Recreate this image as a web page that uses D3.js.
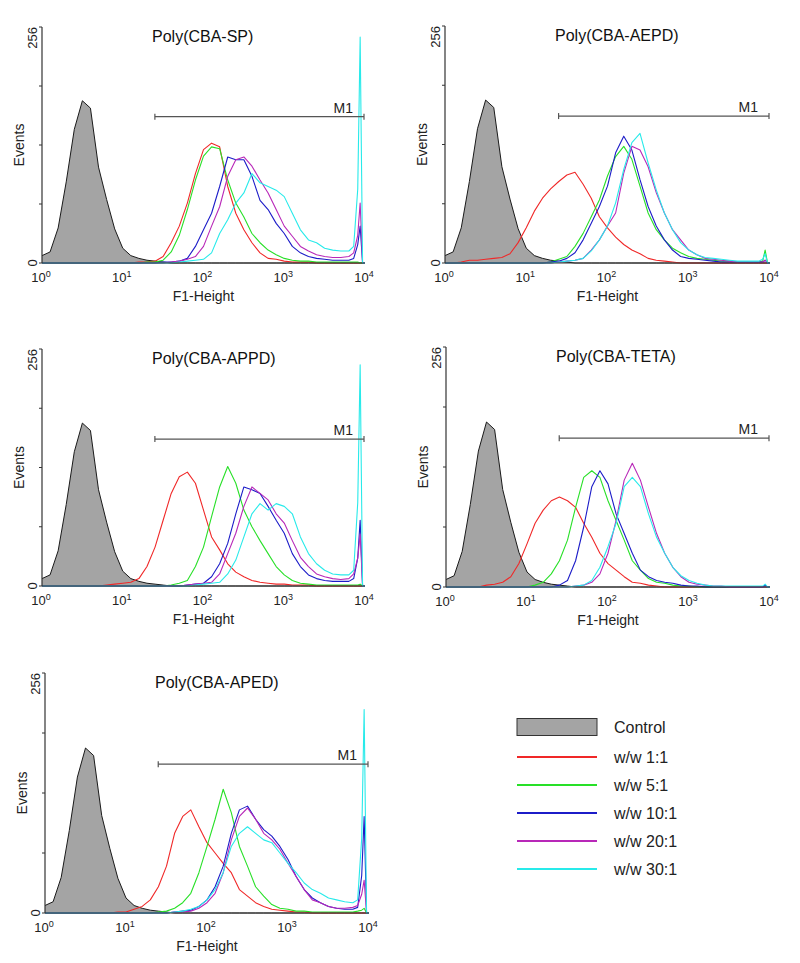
<!DOCTYPE html>
<html>
<head>
<meta charset="utf-8">
<script src="https://cdn.jsdelivr.net/npm/d3@7"></script>
<style>
  body { margin: 0; background: #fff; }
  svg { display: block; font-family: Arial, "Liberation Sans", sans-serif; }
</style>
</head>
<body>
<svg id="chart" width="800" height="963"></svg>
<script>
// ---------------- DATA ----------------
// fluorescence channel (log10 of F1-Height) at which counts were read
const fluorLog = [0.0,0.1,0.2,0.3,0.4,0.5,0.6,0.7,0.8,0.9,
                  1.0,1.1,1.2,1.3,1.4,1.5,1.6,1.7,1.8,1.9,
                  2.0,2.1,2.2,2.3,2.4,2.5,2.6,2.7,2.8,2.9,
                  3.0,3.1,3.2,3.3,3.4,3.5,3.6,3.7,3.8,
                  3.86,3.91,3.94,3.97,4.0];

const seriesNames = ["Control", "w/w 1:1", "w/w 5:1", "w/w 10:1", "w/w 20:1", "w/w 30:1"];
const panelTitles = ["Poly(CBA-SP)", "Poly(CBA-AEPD)", "Poly(CBA-APPD)", "Poly(CBA-TETA)", "Poly(CBA-APED)"];
const xTickLabels = ["0", "1", "2", "3", "4"];   // exponents of 10
const yTickValues = [0, 64, 128, 192, 256];
const markerLabel = "M1";
const markerRange = [25, 9000];

const control = [8,12,38,88,145,176,168,104,69,37, 16,8,5,3,2,1,0,0,0,0, 0,0,0,0,0,0,0,0,0,0, 0,0,0,0,0,0,0,0,0, 0,0,0,0,0];

// Poly(CBA-SP)
const sp_1 = [0,0,0,0,0,0,0,0,0,0, 0,0,1,1,2,7,22,40,65,97, 123,130,126,83,54,36,22,11,5,4, 2,1,1,1,0,0,0,0,0, 0,0,0,0,0];
const sp_5 = [0,0,0,0,0,0,0,0,0,0, 0,0,0,1,1,3,12,30,58,90, 116,126,124,90,65,50,32,22,14,9, 5,3,2,2,1,1,1,1,1, 1,1,0,0,0];
const sp_10 = [0,0,0,0,0,0,0,0,0,0, 0,0,0,0,0,1,1,2,5,18, 36,54,83,115,112,112,94,68,58,43, 32,18,11,7,5,4,3,3,3, 5,20,40,0,0];
const sp_20 = [0,0,0,0,0,0,0,0,0,0, 0,0,0,0,0,0,1,2,4,7, 18,40,61,94,112,115,105,90,76,58, 40,29,18,13,9,7,6,6,7, 11,30,65,0,0];
const sp_30 = [0,0,0,0,0,0,0,0,0,0, 0,0,0,0,0,0,0,1,2,3, 4,11,32,47,65,76,97,87,83,79, 72,54,36,25,22,16,14,13,13, 18,80,245,0,0];

// Poly(CBA-AEPD)
const aepd_1 = [0,0,1,3,3,4,5,6,10,22, 38,56,70,80,88,95,98,85,70,50, 38,28,20,14,10,5,3,2,1,0, 0,0,0,0,0,0,0,0,0, 0,0,0,0,0];
const aepd_5 = [0,0,0,0,0,0,0,0,0,0, 0,0,0,1,4,7,18,32,50,68, 94,115,126,112,83,54,36,25,16,11, 7,5,4,3,2,2,1,1,1, 1,2,14,0,0];
const aepd_10 = [0,0,0,0,0,0,0,0,0,0, 0,0,0,1,2,5,11,25,43,61, 83,119,137,122,90,61,40,25,14,7, 5,4,3,2,1,1,1,1,1, 1,1,3,0,0];
const aepd_20 = [0,0,0,0,0,0,0,0,0,0, 0,0,0,0,1,2,3,5,14,25, 40,54,97,126,122,104,76,54,36,25, 14,9,5,4,3,2,1,1,1, 1,1,3,0,0];
const aepd_30 = [0,0,0,0,0,0,0,0,0,0, 0,0,0,0,1,2,3,5,13,25, 40,65,101,130,140,108,79,54,36,22, 14,9,6,5,4,3,2,2,2, 2,4,10,0,0];

// Poly(CBA-APPD)
const appd_1 = [0,0,0,0,0,0,0,0,1,2, 3,4,8,21,42,71,100,118,123,111, 82,53,39,24,15,10,6,4,3,2, 2,1,1,1,0,0,0,0,0, 0,0,0,0,0];
const appd_5 = [0,0,0,0,0,0,0,0,0,0, 0,0,0,0,0,0,1,3,6,21, 42,75,107,129,111,82,64,49,35,21, 12,6,3,2,1,1,1,1,1, 1,1,2,0,0];
const appd_10 = [0,0,0,0,0,0,0,0,0,0, 0,0,0,0,0,0,0,0,1,2, 3,10,24,46,78,107,104,100,86,71, 57,35,21,12,8,6,5,5,5, 8,30,71,0,0];
const appd_20 = [0,0,0,0,0,0,0,0,0,0, 0,0,0,0,0,0,0,0,1,2, 3,4,13,35,57,86,107,100,93,78, 68,49,31,21,13,10,8,7,8, 13,30,56,0,0];
const appd_30 = [0,0,0,0,0,0,0,0,0,0, 0,0,0,0,0,0,0,0,0,1, 2,3,4,13,28,53,78,89,82,89, 86,78,53,35,24,17,13,12,12, 17,90,239,0,0];

// Poly(CBA-TETA)
const teta_1 = [0,0,0,0,0,2,3,5,11,25, 46,68,82,92,96,92,85,68,53,36, 25,18,11,5,4,2,1,0,0,0, 0,0,0,0,0,0,0,0,0, 0,0,0,0,0];
const teta_5 = [0,0,0,0,0,0,0,0,0,0, 0,2,5,14,28,50,85,117,124,117, 92,71,50,28,18,9,5,4,2,1, 1,0,0,0,0,0,0,0,0, 0,0,0,0,0];
const teta_10 = [0,0,0,0,0,0,0,0,0,0, 0,0,0,0,2,7,28,64,107,124, 110,78,57,36,18,11,7,5,4,2, 1,1,0,0,0,0,0,0,0, 0,0,2,0,0];
const teta_20 = [0,0,0,0,0,0,0,0,0,0, 0,0,0,0,0,0,1,2,5,14, 36,71,114,132,114,85,57,36,21,11, 5,3,2,1,1,0,0,0,0, 0,0,0,0,0];
const teta_30 = [0,0,0,0,0,0,0,0,0,0, 0,0,0,0,0,0,1,2,7,21, 43,68,107,117,107,78,53,36,21,12, 7,4,2,1,1,1,1,1,1, 1,1,3,0,0];

// Poly(CBA-APED)
const aped_1 = [0,0,0,0,0,0,0,0,0,1, 1,4,7,14,28,50,85,103,110,92, 75,64,53,43,25,18,11,7,4,3, 2,1,1,0,0,0,0,0,0, 0,0,0,0,0];
const aped_5 = [0,0,0,0,0,0,0,0,0,0, 0,0,0,0,1,2,5,11,21,43, 71,100,132,107,71,50,28,18,9,5, 4,2,2,1,1,1,1,1,1, 2,3,5,0,0];
const aped_10 = [0,0,0,0,0,0,0,0,0,0, 0,0,0,0,0,0,1,2,3,7, 14,28,50,85,110,114,100,89,82,71, 57,39,25,16,11,7,5,4,4, 6,40,103,0,0];
const aped_20 = [0,0,0,0,0,0,0,0,0,0, 0,0,0,0,0,0,1,1,2,5, 11,21,43,78,103,112,100,85,78,68, 53,39,25,14,11,7,5,5,6, 8,20,35,0,0];
const aped_30 = [0,0,0,0,0,0,0,0,0,0, 0,0,0,0,0,0,1,2,4,7, 14,25,43,71,85,92,85,78,75,64, 53,43,32,25,21,16,14,12,11, 14,80,217,0,0];

const panelSeries = [
  [sp_1, sp_5, sp_10, sp_20, sp_30],
  [aepd_1, aepd_5, aepd_10, aepd_20, aepd_30],
  [appd_1, appd_5, appd_10, appd_20, appd_30],
  [teta_1, teta_5, teta_10, teta_20, teta_30],
  [aped_1, aped_5, aped_10, aped_20, aped_30]
];

// ---------------- LAYOUT & STYLE ----------------
const layout = [
  { x0: 42,  w: 323, top: 27,  h: 236 },
  { x0: 445, w: 325, top: 26,  h: 237 },
  { x0: 42,  w: 323, top: 349, h: 237 },
  { x0: 446, w: 324, top: 347, h: 240 },
  { x0: 45,  w: 324, top: 673, h: 240 }
];
const lineColors = ["#f02828", "#28e028", "#1c1cc8", "#b828b8", "#28eaea"];
const controlFill = "#a4a4a4";
const axisColor = "#333";

const svg = d3.select("#chart");

layout.forEach((L, pi) => {
  const x = d3.scaleLog().domain([1, 1e4]).range([L.x0, L.x0 + L.w]);
  const y = d3.scaleLinear().domain([0, 256]).range([L.top + L.h, L.top]);
  const g = svg.append("g");
  const pts = arr => arr.map((v, i) => [Math.pow(10, fluorLog[i]), v]);

  // control filled histogram
  const area = d3.area().x(d => x(d[0])).y0(y(0)).y1(d => y(d[1]));
  const line = d3.line().x(d => x(d[0])).y(d => y(d[1]));
  g.append("path").attr("d", area(pts(control)))
    .attr("fill", controlFill).attr("stroke", "none");
  g.append("path").attr("d", line(pts(control)))
    .attr("fill", "none").attr("stroke", "#1a1a1a").attr("stroke-width", 1);

  panelSeries[pi].forEach((s, si) => {
    g.append("path").attr("d", line(pts(s)))
      .attr("fill", "none").attr("stroke", lineColors[si])
      .attr("stroke-width", 1.1).attr("stroke-linejoin", "round");
  });

  // axes
  g.append("line").attr("x1", L.x0).attr("x2", L.x0).attr("y1", L.top).attr("y2", L.top + L.h)
    .attr("stroke", axisColor).attr("stroke-width", 1.2);
  g.append("line").attr("x1", L.x0).attr("x2", L.x0 + L.w).attr("y1", L.top + L.h).attr("y2", L.top + L.h)
    .attr("stroke", axisColor).attr("stroke-width", 1.2);
  yTickValues.forEach(v => {
    g.append("line").attr("x1", L.x0 - 3).attr("x2", L.x0).attr("y1", y(v)).attr("y2", y(v))
      .attr("stroke", axisColor).attr("stroke-width", 1);
  });
  // y end labels (rotated)
  [0, 256].forEach(v => {
    const ty = v === 0 ? y(0) : y(256);
    g.append("text")
      .attr("transform", `translate(${L.x0 - 5},${ty}) rotate(-90)`)
      .attr("text-anchor", v === 0 ? "middle" : "end")
      .attr("font-size", 13).attr("fill", "#222")
      .text(String(v));
  });
  g.append("text")
    .attr("transform", `translate(${L.x0 - 18},${L.top + L.h / 2}) rotate(-90)`)
    .attr("text-anchor", "middle").attr("font-size", 14).attr("fill", "#222")
    .text("Events");

  // x tick labels
  xTickLabels.forEach(e => {
    const t = g.append("text")
      .attr("x", x(Math.pow(10, +e)) - 1).attr("y", L.top + L.h + 19)
      .attr("text-anchor", "middle").attr("font-size", 13).attr("fill", "#222");
    t.append("tspan").text("10");
    t.append("tspan").attr("dy", -5).attr("font-size", 9).text(e);
  });
  g.append("text")
    .attr("x", L.x0 + L.w * 0.5).attr("y", L.top + L.h + 38)
    .attr("text-anchor", "middle").attr("font-size", 14).attr("fill", "#222")
    .text("F1-Height");

  // title
  g.append("text")
    .attr("x", L.x0 + 110).attr("y", L.top + 15)
    .attr("font-size", 16).attr("fill", "#111")
    .text(panelTitles[pi]);

  // M1 marker
  const my = L.top + L.h * 0.38;
  const mx1 = x(markerRange[0]), mx2 = L.x0 + L.w - 1;
  g.append("line").attr("x1", mx1).attr("x2", mx2).attr("y1", my).attr("y2", my)
    .attr("stroke", "#555").attr("stroke-width", 1.2);
  [mx1, mx2].forEach(mx => g.append("line").attr("x1", mx).attr("x2", mx)
    .attr("y1", my - 3).attr("y2", my + 3).attr("stroke", "#555").attr("stroke-width", 1.2));
  g.append("text").attr("x", mx2 - 11).attr("y", my - 4)
    .attr("text-anchor", "end").attr("font-size", 14).attr("fill", "#222")
    .text(markerLabel);
});

// ---------------- LEGEND ----------------
const leg = svg.append("g");
const lx = 517, ly = 727, lstep = 28;
seriesNames.forEach((name, i) => {
  const cy = ly + i * lstep + (i > 0 ? 2 : 0);
  if (i === 0) {
    leg.append("rect").attr("x", lx).attr("y", cy - 8.5).attr("width", 80).attr("height", 17)
      .attr("fill", controlFill).attr("stroke", "#333").attr("stroke-width", 1);
  } else {
    leg.append("line").attr("x1", lx).attr("x2", lx + 80).attr("y1", cy).attr("y2", cy)
      .attr("stroke", lineColors[i - 1]).attr("stroke-width", 2.2);
  }
  leg.append("text").attr("x", 614).attr("y", cy + 5.5)
    .attr("font-size", 16).attr("fill", "#222").text(name);
});
</script>
</body>
</html>
